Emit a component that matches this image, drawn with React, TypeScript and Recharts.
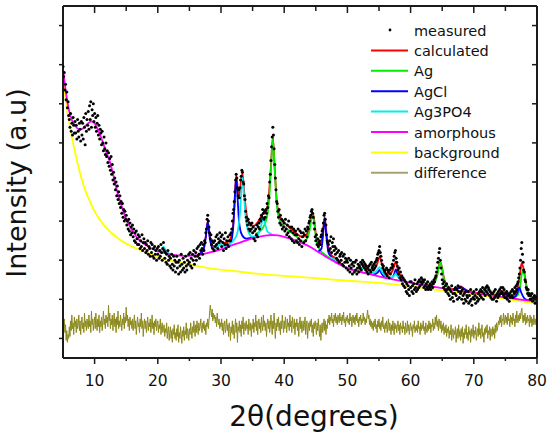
import React from 'react';
import { ComposedChart, Line, Scatter, XAxis, YAxis, Legend } from 'recharts';

// measured and difference patterns: first 2theta and step
const SCAN_START = 5;
const SCAN_STEP = 0.1;

// measured intensity, one row per degree (5.0 ... 80.0)
const measured = [
  14.9, 14.4, 14.6, 13.7, 14.0, 13.2, 13.6, 12.8, 13.1, 12.4,
  12.2, 11.8, 12.5, 11.6, 12.0, 11.4, 12.3, 11.9, 11.5, 12.1,
  11.5, 11.9, 11.2, 12.2, 11.6, 11.3, 12.0, 11.7, 11.1, 12.1,
  11.4, 12.0, 11.2, 12.3, 11.8, 10.9, 12.5, 11.6, 12.2, 11.9,
  12.6, 11.7, 12.9, 12.2, 13.1, 11.8, 12.7, 12.4, 13.0, 12.1,
  12.5, 11.8, 12.3, 11.6, 12.0, 12.4, 11.4, 11.9, 11.2, 11.7,
  11.5, 10.9, 11.6, 11.0, 10.6, 11.3, 10.7, 10.4, 11.0, 10.3,
  10.6, 10.0, 10.5, 9.8, 10.2, 9.6, 10.3, 9.4, 9.9, 9.1,
  9.5, 8.9, 9.2, 8.6, 9.0, 8.3, 8.8, 8.1, 8.5, 7.9,
  8.3, 7.7, 8.0, 7.4, 7.9, 7.2, 7.6, 7.0, 7.5, 7.1,
  7.3, 6.8, 7.0, 6.6, 7.1, 6.5, 6.9, 6.3, 6.7, 6.4,
  6.8, 6.2, 6.6, 6.0, 6.4, 5.9, 6.5, 6.1, 5.8, 6.3,
  5.8, 6.2, 5.6, 6.0, 5.7, 6.3, 5.5, 5.9, 6.1, 5.6,
  5.9, 5.4, 5.8, 5.5, 6.0, 5.3, 5.7, 5.6, 5.2, 5.9,
  5.4, 5.8, 5.2, 5.6, 5.1, 5.7, 5.3, 5.5, 5.0, 5.6,
  5.3, 5.7, 5.1, 5.5, 5.2, 5.8, 5.4, 5.0, 5.6, 5.9,
  5.5, 5.1, 5.4, 4.9, 5.3, 4.8, 5.5, 5.0, 5.2, 4.7,
  5.1, 4.6, 5.3, 4.8, 4.5, 5.2, 4.7, 5.0, 4.4, 4.9,
  5.2, 4.6, 4.9, 4.3, 5.0, 4.7, 4.4, 5.3, 4.8, 4.5,
  5.1, 4.6, 4.9, 4.4, 5.2, 4.7, 4.5, 5.0, 4.8, 5.3,
  4.9, 5.4, 4.7, 5.1, 4.6, 5.3, 5.0, 5.5, 4.8, 5.2,
  5.4, 5.0, 5.6, 5.2, 5.7, 5.3, 5.1, 5.8, 5.5, 5.9,
  5.6, 5.3, 5.8, 5.5, 6.0, 5.9, 6.4, 6.6, 7.1, 7.3,
  7.0, 6.7, 6.4, 6.1, 6.3, 5.8, 6.0, 5.6, 5.9, 5.5,
  6.0, 5.7, 6.2, 5.8, 6.3, 5.6, 6.1, 5.9, 6.4, 6.0,
  6.2, 5.7, 6.3, 5.9, 5.5, 6.1, 5.8, 6.4, 5.6, 6.0,
  5.8, 6.2, 5.7, 6.0, 6.3, 6.0, 6.4, 6.6, 7.0, 7.4,
  7.6, 8.0, 8.5, 9.1, 9.4, 9.2, 8.7, 8.3, 8.6, 8.2,
  8.7, 9.1, 9.3, 9.6, 9.5, 9.0, 8.9, 8.3, 8.1, 7.5,
  7.2, 7.0, 6.8, 7.1, 6.6, 6.9, 6.5, 6.8, 6.6, 6.9,
  6.4, 6.7, 6.1, 6.5, 6.0, 6.6, 6.3, 6.8, 6.2, 6.7,
  6.9, 6.6, 7.1, 7.0, 7.3, 7.2, 7.6, 7.4, 7.1, 7.5,
  7.2, 7.6, 7.4, 7.9, 7.7, 8.3, 8.2, 9.0, 9.4, 10.1,
  10.8, 11.3, 11.8, 11.4, 10.7, 9.9, 9.2, 8.6, 8.0, 7.9,
  7.5, 7.2, 7.6, 6.9, 7.3, 6.8, 7.1, 6.6, 7.0, 6.7,
  6.9, 6.5, 7.1, 6.6, 6.3, 6.8, 6.4, 7.0, 6.2, 6.7,
  6.5, 6.1, 6.7, 6.0, 6.4, 6.6, 5.9, 6.3, 6.5, 6.0,
  6.3, 5.9, 6.6, 6.1, 5.8, 6.5, 6.0, 6.4, 5.7, 6.2,
  6.4, 5.9, 6.3, 6.6, 6.0, 6.5, 6.2, 6.7, 6.6, 6.9,
  7.0, 7.2, 7.3, 7.5, 7.6, 7.4, 7.2, 6.9, 6.6, 6.2,
  6.0, 6.3, 5.8, 6.1, 5.7, 5.9, 6.0, 5.8, 6.2, 6.3,
  6.5, 6.6, 6.9, 7.3, 7.4, 7.1, 6.8, 6.3, 6.0, 5.9,
  5.8, 5.5, 6.0, 5.6, 6.2, 5.4, 5.9, 5.7, 6.1, 5.5,
  5.7, 5.3, 5.6, 5.1, 5.4, 5.0, 5.5, 4.9, 5.2, 5.3,
  5.0, 5.4, 4.8, 5.2, 4.7, 5.3, 4.9, 5.1, 4.6, 5.0,
  4.9, 4.5, 5.1, 4.7, 4.4, 5.0, 4.6, 4.8, 4.3, 4.9,
  4.7, 4.4, 4.9, 4.5, 5.0, 4.3, 4.6, 4.8, 4.4, 4.7,
  4.6, 4.9, 4.5, 4.8, 5.0, 4.7, 4.9, 4.6, 4.8, 4.5,
  4.7, 4.4, 4.6, 4.3, 4.7, 4.5, 4.8, 4.4, 4.9, 4.6,
  4.7, 4.5, 4.8, 4.6, 4.9, 4.7, 5.0, 5.1, 5.3, 5.4,
  5.5, 5.7, 5.4, 5.2, 5.0, 4.8, 4.6, 4.7, 4.5, 4.4,
  4.5, 4.3, 4.6, 4.2, 4.5, 4.4, 4.1, 4.5, 4.3, 4.6,
  4.6, 4.8, 4.7, 5.0, 5.2, 5.4, 5.5, 5.1, 4.9, 4.7,
  4.5, 4.3, 4.6, 4.1, 4.4, 4.0, 4.2, 3.8, 4.1, 3.7,
  4.0, 3.6, 3.9, 3.4, 3.8, 3.3, 3.7, 3.5, 3.2, 3.9,
  3.6, 3.9, 3.4, 3.7, 3.3, 3.8, 3.5, 4.0, 3.6, 3.4,
  3.8, 3.5, 3.9, 3.6, 4.0, 3.7, 3.9, 4.1, 3.8, 4.0,
  3.9, 3.6, 4.0, 3.7, 3.5, 3.8, 3.6, 3.9, 3.5, 3.7,
  3.6, 3.8, 3.5, 3.7, 3.9, 3.6, 3.8, 4.0, 3.9, 4.1,
  4.2, 4.4, 4.6, 4.9, 5.1, 5.4, 5.6, 5.0, 4.6, 4.3,
  4.0, 3.8, 3.6, 3.9, 3.5, 3.7, 3.4, 3.8, 3.5, 3.3,
  3.6, 3.2, 3.5, 3.0, 3.4, 3.7, 3.1, 3.3, 2.9, 3.5,
  3.3, 3.6, 3.2, 3.5, 3.0, 3.7, 3.4, 3.1, 3.6, 3.3,
  3.4, 3.0, 3.5, 3.2, 2.8, 3.3, 3.0, 3.4, 2.9, 3.2,
  3.1, 3.4, 2.8, 3.2, 2.9, 3.5, 3.0, 2.7, 3.3, 3.1,
  3.4, 3.0, 3.2, 2.8, 3.5, 3.1, 2.9, 3.3, 3.0, 3.4,
  3.2, 3.5, 3.1, 3.4, 3.6, 3.0, 3.3, 3.5, 3.2, 3.6,
  3.4, 3.7, 3.3, 3.6, 3.5, 3.2, 3.4, 3.1, 3.3, 3.0,
  3.3, 3.0, 3.4, 3.1, 3.5, 3.2, 2.9, 3.3, 3.1, 3.4,
  3.2, 3.5, 3.3, 3.6, 3.4, 3.3, 3.6, 3.2, 3.5, 3.1,
  3.3, 3.1, 3.4, 3.0, 3.3, 3.2, 2.9, 3.3, 3.1, 3.4,
  3.2, 3.5, 3.1, 3.4, 3.3, 3.6, 3.4, 3.7, 3.5, 3.8,
  3.9, 4.1, 4.3, 4.6, 5.0, 5.6, 5.9, 5.3, 4.9, 4.5,
  4.4, 4.0, 3.9, 3.6, 3.5, 3.3, 3.5, 3.2, 3.3, 3.0,
  3.2, 3.0, 3.3, 2.9, 3.1, 3.0, 3.2, 2.8, 3.1, 3.0,
  3.1,
];

// difference (measured - calculated), offset below the pattern
const difference = [
  2.2, 1.6, 2.0, 1.3, 1.7, 0.9, 1.4, 0.8, 1.2, 1.0,
  1.6, 1.1, 1.9, 1.4, 2.2, 1.5, 1.8, 1.2, 2.1, 1.6,
  1.9, 1.3, 2.0, 1.5, 1.7, 2.2, 1.4, 1.9, 1.2, 1.8,
  2.1, 1.5, 1.8, 1.3, 2.3, 1.6, 1.9, 1.4, 2.0, 1.7,
  1.5, 2.2, 1.6, 1.9, 1.3, 2.4, 1.7, 2.0, 1.4, 1.8,
  2.1, 1.5, 2.3, 1.7, 1.4, 2.0, 1.6, 2.2, 1.3, 1.9,
  1.6, 2.1, 1.4, 1.9, 2.4, 1.7, 2.0, 1.5, 2.2, 1.8,
  2.1, 1.6, 2.7, 1.9, 2.3, 1.5, 2.0, 1.7, 2.2, 1.4,
  1.9, 2.3, 1.6, 2.0, 1.3, 2.1, 1.7, 2.4, 1.5, 1.9,
  1.6, 2.2, 1.8, 1.4, 2.0, 1.7, 2.3, 1.5, 2.1, 1.8,
  2.6, 1.9, 2.2, 1.6, 2.0, 1.4, 2.1, 1.7, 1.9, 1.5,
  2.0, 1.4, 1.8, 2.2, 1.5, 1.9, 1.2, 1.7, 2.1, 1.6,
  1.8, 1.3, 2.0, 1.6, 2.3, 1.5, 1.9, 1.1, 1.7, 2.0,
  1.5, 1.9, 1.3, 1.7, 2.1, 1.4, 1.8, 1.6, 2.0, 1.3,
  1.7, 2.2, 1.5, 1.8, 1.2, 1.9, 1.6, 2.0, 1.4, 1.7,
  1.9, 1.3, 1.7, 1.5, 2.0, 1.2, 1.6, 1.8, 1.3, 1.5,
  1.7, 1.1, 1.5, 1.3, 1.8, 1.0, 1.4, 1.6, 0.9, 1.3,
  1.6, 1.0, 1.4, 0.8, 1.5, 1.2, 1.7, 1.0, 1.3, 0.9,
  1.5, 1.1, 1.7, 0.8, 1.3, 1.0, 1.6, 1.2, 0.75, 1.4,
  1.1, 1.6, 0.9, 1.4, 1.2, 1.8, 1.0, 1.5, 1.3, 0.9,
  1.5, 1.2, 1.8, 1.4, 1.0, 1.6, 1.3, 1.9, 1.5, 1.1,
  1.7, 1.3, 1.9, 1.5, 1.2, 1.8, 1.4, 1.6, 2.0, 1.5,
  1.3, 1.8, 1.5, 1.9, 1.4, 1.7, 1.2, 1.8, 1.6, 2.0,
  1.5, 1.9, 2.3, 2.7, 2.4, 2.1, 2.5, 1.9, 2.3, 2.0,
  2.2, 1.8, 2.1, 1.6, 2.3, 1.9, 1.7, 2.0, 1.5, 1.8,
  1.6, 2.0, 1.4, 1.8, 1.2, 1.7, 1.9, 1.3, 1.6, 2.0,
  1.4, 1.7, 1.1, 1.8, 1.5, 0.9, 1.6, 1.3, 1.9, 1.2,
  1.7, 1.0, 1.5, 2.0, 1.3, 1.8, 0.8, 1.6, 1.4, 1.9,
  1.3, 1.7, 1.1, 1.9, 1.5, 2.1, 1.2, 1.6, 1.8, 1.4,
  1.9, 1.5, 1.7, 1.2, 2.0, 1.6, 1.4, 1.8, 1.1, 1.7,
  1.5, 2.0, 1.3, 1.8, 1.6, 2.2, 1.4, 1.9, 1.2, 1.7,
  2.0, 1.5, 1.8, 1.3, 2.1, 1.7, 1.4, 2.2, 1.6, 1.9,
  1.4, 1.8, 1.1, 1.7, 2.0, 1.5, 1.9, 1.3, 1.6, 2.2,
  1.7, 1.2, 1.9, 1.5, 2.3, 1.6, 1.0, 1.8, 1.4, 2.0,
  1.6, 2.1, 1.4, 1.8, 1.2, 1.9, 1.5, 2.2, 1.7, 1.3,
  1.9, 1.5, 2.1, 1.7, 1.3, 2.0, 1.6, 1.8, 1.4, 2.2,
  1.6, 1.9, 1.3, 2.1, 1.7, 1.5, 2.0, 1.2, 1.8, 1.6,
  2.0, 1.4, 1.8, 1.1, 1.7, 2.1, 1.5, 1.9, 1.3, 1.6,
  1.9, 1.4, 1.7, 2.1, 1.2, 1.6, 1.9, 1.0, 1.5, 1.8,
  1.4, 1.9, 1.6, 2.0, 1.3, 1.7, 1.1, 1.8, 1.5, 1.9,
  1.6, 1.2, 1.8, 1.4, 2.0, 1.5, 1.1, 1.7, 0.9, 1.5,
  1.8, 1.3, 1.6, 2.0, 1.4, 1.9, 1.2, 1.7, 1.5, 2.0,
  1.8, 2.2, 1.7, 2.1, 1.9, 2.3, 1.8, 2.0, 1.6, 2.2,
  1.9, 2.3, 1.8, 2.1, 1.7, 2.2, 2.0, 1.8, 2.3, 1.9,
  2.1, 1.7, 2.2, 1.9, 2.35, 1.8, 2.0, 1.6, 2.1, 1.9,
  2.2, 1.8, 2.0, 1.7, 2.3, 1.9, 2.1, 1.6, 2.0, 2.2,
  1.8, 2.1, 1.7, 2.2, 1.9, 2.3, 1.8, 2.0, 1.6, 2.1,
  1.9, 2.2, 1.7, 2.0, 1.8, 2.3, 1.9, 2.1, 1.7, 2.0,
  1.8, 2.2, 2.45, 2.0, 2.2, 1.7, 2.0, 1.6, 1.9, 1.5,
  1.8, 1.4, 1.9, 1.6, 2.0, 1.5, 1.7, 1.3, 1.9, 1.6,
  2.0, 1.5, 1.8, 1.4, 1.9, 1.6, 2.1, 1.5, 1.7, 1.3,
  1.8, 1.5, 1.9, 1.3, 1.7, 2.0, 1.4, 1.8, 1.6, 1.2,
  1.7, 1.4, 1.9, 1.5, 1.2, 1.8, 1.5, 1.7, 1.3, 1.6,
  1.9, 1.4, 1.7, 1.2, 1.8, 1.5, 1.6, 1.3, 1.9, 1.5,
  1.6, 1.2, 1.8, 1.5, 1.3, 1.9, 1.4, 1.7, 1.2, 1.6,
  1.8, 1.4, 1.6, 1.1, 1.7, 1.5, 1.9, 1.3, 1.6, 1.4,
  1.7, 1.3, 1.9, 1.5, 1.6, 1.2, 1.8, 1.4, 1.7, 1.5,
  1.9, 1.4, 1.6, 1.2, 1.8, 1.5, 1.3, 1.7, 1.4, 1.9,
  1.5, 1.8, 1.3, 1.7, 1.6, 2.0, 1.4, 1.8, 1.5, 2.1,
  1.7, 2.2, 1.6, 1.9, 1.4, 2.0, 1.7, 1.5, 1.9, 1.3,
  1.7, 1.4, 1.8, 1.2, 1.6, 1.3, 1.7, 1.1, 1.5, 1.3,
  1.6, 1.0, 1.4, 1.2, 1.7, 0.9, 1.3, 1.5, 1.0, 1.4,
  1.2, 1.6, 0.8, 1.3, 1.5, 1.0, 1.7, 1.1, 1.4, 0.9,
  1.5, 1.1, 1.6, 0.75, 1.3, 1.0, 1.5, 1.2, 1.7, 1.0,
  1.3, 0.9, 1.6, 1.2, 1.4, 0.8, 1.5, 1.1, 1.3, 1.7,
  1.0, 1.4, 1.2, 1.6, 0.9, 1.3, 1.5, 1.1, 1.8, 1.2,
  1.5, 1.0, 1.4, 1.7, 1.1, 1.3, 0.8, 1.5, 1.2, 1.6,
  1.3, 1.7, 1.0, 1.4, 1.2, 1.6, 0.9, 1.5, 1.3, 1.1,
  1.6, 1.2, 1.5, 1.0, 1.7, 1.3, 1.8, 1.4, 1.6, 1.9,
  1.7, 2.1, 1.8, 2.2, 1.6, 2.0, 1.9, 2.3, 1.7, 2.0,
  2.2, 1.8, 2.1, 1.7, 2.3, 1.9, 2.0, 1.6, 2.2, 1.8,
  2.1, 1.7, 2.3, 1.9, 2.0, 1.6, 2.2, 1.8, 2.4, 2.0,
  1.8, 2.2, 1.9, 2.3, 2.0, 2.4, 2.55, 2.1, 1.8, 2.2,
  1.9, 2.3, 1.7, 2.1, 1.8, 2.2, 1.9, 2.0, 1.6, 2.2,
  1.8, 2.1, 1.6, 2.0, 1.7, 2.2, 1.9, 1.7, 2.0, 1.8,
  2.1,
];

// fitted curves: [2theta, intensity]; null splits a curve into pieces
type Pt = [number, number | null];

const background: Pt[] = [
  [5, 14.6], [5.25, 13.7], [5.5, 13.0], [6, 12.0], [6.5, 11.15], [7, 10.4], [7.5, 9.7],
  [8, 9.1], [8.5, 8.6], [9, 8.2], [10, 7.5], [11, 7.0], [12, 6.6], [13, 6.3], [14, 6.05],
  [15, 5.85], [17, 5.55], [19, 5.3], [21, 5.05], [24, 4.85], [28, 4.6], [32, 4.45],
  [36, 4.3], [40, 4.2], [45, 4.08], [50, 3.95], [55, 3.84], [60, 3.66], [65, 3.45],
  [70, 3.24], [75, 3.02], [80, 2.78],
];

const amorphous: Pt[] = [
  [5, 14.8], [5.25, 14.1], [5.5, 13.5], [6, 12.6], [6.5, 12.1], [7, 11.85], [7.5, 11.7],
  [8, 11.7], [8.5, 11.85], [9, 12.0], [9.5, 12.1], [10, 12.0], [10.5, 11.7], [11, 11.3],
  [11.5, 10.85], [12, 10.4], [12.5, 9.95], [13, 9.3], [13.5, 8.6], [14, 8.05], [14.5, 7.55],
  [15, 7.1], [16, 6.5], [17, 6.05], [18, 5.8], [19, 5.6], [20, 5.45], [21, 5.37], [22, 5.3],
  [23, 5.25], [24, 5.22], [25, 5.22], [26, 5.25], [27, 5.3], [28, 5.38], [29, 5.45],
  [30, 5.55], [31, 5.68], [32, 5.8], [33, 5.9], [34, 6.02], [35, 6.12], [36, 6.2],
  [37, 6.26], [38, 6.29], [39, 6.27], [40, 6.2], [41, 6.1], [42, 5.97], [43, 5.85],
  [44, 5.7], [45, 5.5], [46, 5.3], [47, 5.1], [48, 4.92], [49, 4.75], [50, 4.6], [52, 4.4],
  [54, 4.25], [56, 4.1], [58, 3.97], [60, 3.85], [62, 3.72], [64, 3.62], [66, 3.52],
  [68, 3.42], [70, 3.33], [72, 3.23], [74, 3.14], [76, 3.05], [78, 2.96], [80, 2.88],
];

const calculated: Pt[] = [
  [26.5, 5.3], [27.0, 5.42], [27.3, 5.62], [27.6, 6.25], [27.9, 7.0], [28.2, 6.25],
  [28.5, 5.8], [28.9, 5.72], [29.4, 5.85], [29.9, 6.0], [30.4, 5.88], [31.0, 5.92],
  [31.5, 6.1], [31.8, 6.45], [32.1, 7.6], [32.4, 9.35], [32.7, 8.5], [32.9, 8.3],
  [33.15, 9.0], [33.4, 9.44], [33.7, 8.4], [34.0, 7.45], [34.5, 6.9], [35.1, 6.75],
  [35.7, 6.9], [36.2, 7.15], [36.5, 7.32], [36.75, 7.39], [37.1, 7.45], [37.5, 8.1],
  [37.9, 9.8], [38.2, 11.3], [38.5, 9.7], [38.8, 8.1], [39.2, 7.35], [39.8, 7.0],
  [40.6, 6.75], [41.5, 6.5], [42.2, 6.3], [42.8, 6.2], [43.5, 6.3], [44.0, 6.7],
  [44.3, 7.25], [44.5, 7.45], [44.75, 7.05], [45.1, 6.1], [45.5, 5.8], [45.9, 5.95],
  [46.15, 6.55], [46.4, 7.2], [46.65, 6.5], [47.0, 5.6], [47.5, 5.25], [47.9, 5.15],
  [48.4, 5.0], [49.0, 4.82], [50.2, null],
  [51.5, 4.45], [52.2, 4.55], [52.6, 4.7], [53.0, 4.55], [53.5, 4.48], [54.2, 4.52],
  [54.7, 4.8], [55.1, 5.18], [55.4, 4.85], [56.0, 4.35], [56.6, 4.3], [57.2, 4.5],
  [57.65, 4.92], [58.0, 4.5], [58.6, 4.1], [59.2, 3.95], [60.1, null],
  [61.0, 3.8], [61.9, 3.9], [62.8, 3.7], [63.3, 3.75], [63.8, 3.9], [64.2, 4.25],
  [64.5, 4.75], [64.7, 4.92], [64.95, 4.65], [65.3, 4.05], [65.8, 3.7], [66.6, 3.52],
  [67.4, 3.58], [67.9, 3.66], [68.4, 3.56], [69.2, 3.42], [70.5, 3.32], [71.5, 3.35],
  [72.2, 3.5], [72.8, 3.33], [73.5, 3.22], [74.2, 3.3], [74.6, 3.4], [75.1, 3.3],
  [75.8, 3.16], [76.4, 3.22], [76.9, 3.55], [77.3, 4.3], [77.55, 4.84], [77.85, 4.6],
  [78.05, 4.28], [78.3, 3.75], [78.7, 3.25], [79.3, 3.05], [80, 2.95],
];

const agPhase: Pt[] = [
  [35.5, 6.35], [36.5, 6.6], [37.2, 7.1], [37.6, 8.0], [37.9, 9.6], [38.2, 11.2],
  [38.5, 9.6], [38.8, 8.0], [39.2, 7.1], [40, 6.75], [41, 6.45], [42, 6.2], [42.8, 5.95],
  [43.5, 6.05], [44.0, 6.5], [44.3, 7.1], [44.5, 7.31], [44.75, 6.9], [45.1, 6.0],
  [45.6, 5.55], [46.2, 5.35], [47.0, 5.15], [47.5, 5.05], [48, null],
  [63.2, 3.72], [63.8, 3.85], [64.2, 4.2], [64.5, 4.7], [64.7, 4.87], [64.95, 4.6],
  [65.3, 4.0], [65.8, 3.62], [66.5, 3.5], [67, null],
  [76.2, 3.08], [76.9, 3.2], [77.3, 3.6], [77.6, 4.3], [77.8, 4.53], [78.05, 4.2],
  [78.4, 3.5], [79, 3.1], [80, 2.92],
];

const agclPhase: Pt[] = [
  [26.6, 5.33], [27.2, 5.5], [27.6, 6.2], [27.9, 6.96], [28.2, 6.2], [28.6, 5.62],
  [29.2, 5.5], [29.6, null],
  [31.0, 5.72], [31.6, 5.95], [32.0, 7.0], [32.2, 8.3], [32.4, 9.18], [32.6, 8.3],
  [32.85, 7.0], [33.3, 6.3], [34, 6.1], [35, 6.17], [35.6, 6.22], [36, null],
  [45.4, 5.45], [45.9, 5.6], [46.15, 6.3], [46.4, 7.14], [46.65, 6.3], [47, 5.4],
  [47.5, 5.15], [48, 4.95], [48.5, null],
  [54.0, 4.27], [54.6, 4.32], [54.9, 4.42], [55.1, 4.5], [55.35, 4.35], [55.8, 4.15],
  [56.4, 4.08], [57.0, 4.1], [57.35, 4.25], [57.65, 4.53], [57.95, 4.25], [58.5, 4.0],
  [59.2, 3.92], [60, null],
  [67.0, 3.5], [67.5, 3.56], [67.9, 3.64], [68.3, 3.56], [68.9, 3.44], [69.5, null],
  [73.8, 3.18], [74.3, 3.28], [74.6, 3.33], [75.0, 3.25], [75.6, 3.1], [76.3, 3.08],
  [76.8, 3.25], [77.2, 3.61], [77.5, 3.35], [78.0, 3.05], [78.6, 2.95],
];

const ag3po4Phase: Pt[] = [
  [20.2, 5.44], [20.6, 5.55], [20.9, 5.69], [21.2, 5.52], [21.7, 5.36], [22, null],
  [28.9, 5.5], [29.4, 5.65], [29.9, 5.83], [30.4, 5.72], [31, 5.76], [31.8, 5.95],
  [32.5, 6.3], [33.0, 7.4], [33.2, 8.4], [33.4, 9.26], [33.65, 8.3], [33.9, 7.2],
  [34.4, 6.4], [35, 6.2], [35.8, 6.3], [36.3, 6.7], [36.55, 7.05], [36.75, 7.22],
  [36.95, 6.9], [37.4, 6.45], [38, 6.35], [38.5, null],
  [47.2, 5.15], [47.9, 5.05], [48.6, 4.85], [49, null],
  [51.8, 4.45], [52.3, 4.55], [52.6, 4.63], [52.9, 4.5], [53.5, 4.35], [54.2, 4.35],
  [54.7, 4.5], [55.1, 4.65], [55.4, 4.45], [56, 4.2], [56.7, 4.1], [57.3, 4.18],
  [57.65, 4.3], [58, 4.15], [58.6, 3.98], [59, null],
  [61.2, 3.78], [61.6, 3.82], [61.9, 3.87], [62.3, 3.78], [62.8, 3.68], [63, null],
  [71.4, 3.28], [71.9, 3.38], [72.2, 3.47], [72.6, 3.36], [73.2, 3.2],
];

const xTicks = [10, 15, 20, 25, 30, 35, 40, 45, 50, 55, 60, 65, 70, 75, 80];
const yTicks = [1, 2, 3, 4, 5, 6, 7, 8, 9, 10, 11, 12, 13, 14, 15, 16, 17];

const legendItems = [
  { label: 'measured', color: '#000000', dot: true },
  { label: 'calculated', color: '#ff0000' },
  { label: 'Ag', color: '#00ee00' },
  { label: 'AgCl', color: '#0000ff' },
  { label: 'Ag3PO4', color: '#00eeee' },
  { label: 'amorphous', color: '#ff00ff' },
  { label: 'background', color: '#ffff00' },
  { label: 'difference', color: '#a8a070' },
];

const AXIS = '#1a1a1a';
const FONT = '"DejaVu Sans", sans-serif';

const scan = (values: number[]) =>
  values.map((y, i) => ({ x: Math.round((SCAN_START + i * SCAN_STEP) * 10) / 10, y }));
const toPoints = (pts: Pt[]) => pts.map(([x, y]) => ({ x, y }));

const BottomTick = ({ x, y, payload }: any) => {
  const major = payload.value % 10 === 0;
  return (
    <g>
      <line x1={x} x2={x} y1={y} y2={y + (major ? 6 : 3)} stroke={AXIS} strokeWidth={1.5} />
      {major && (
        <text x={x} y={y + 27.5} textAnchor="middle" fontSize={15.5} fontFamily={FONT} fill="#111">
          {payload.value}
        </text>
      )}
    </g>
  );
};

const TopTick = ({ x, y, payload }: any) => {
  const major = payload.value % 10 === 0;
  return <line x1={x} x2={x} y1={y} y2={y + (major ? 7 : 5)} stroke={AXIS} strokeWidth={1.5} />;
};

const LeftTick = ({ x, y, payload }: any) => {
  const major = payload.value % 2 === 0;
  return <line x1={x} x2={x - (major ? 8 : 4)} y1={y} y2={y} stroke={AXIS} strokeWidth={1.5} />;
};

const RightTick = ({ x, y, payload }: any) => {
  const major = payload.value % 2 === 0;
  return <line x1={x} x2={x - (major ? 7 : 5)} y1={y} y2={y} stroke={AXIS} strokeWidth={1.5} />;
};

const LegendBox = () => (
  <svg width={175} height={170}>
    {legendItems.map((item, i) => {
      const cy = 12 + i * 20.4;
      return (
        <g key={item.label}>
          {item.dot ? (
            <circle cx={22} cy={cy} r={1.4} fill={item.color} />
          ) : (
            <line x1={3} x2={40} y1={cy} y2={cy} stroke={item.color} strokeWidth={2} />
          )}
          <text x={46} y={cy + 5.5} fontSize={14.5} fontFamily={FONT} fill="#111">
            {item.label}
          </text>
        </g>
      );
    })}
  </svg>
);

const Dot = (props: any) => <circle cx={props.cx} cy={props.cy} r={1.5} fill="#000" />;

export default function App() {
  return (
    <div style={{ width: 550, height: 438, background: '#fff' }}>
      <style>{'body{margin:0}'}</style>
      <ComposedChart width={550} height={438} margin={{ top: 5, right: 12, bottom: 0, left: 0 }}>
        <XAxis
          xAxisId="b"
          type="number"
          dataKey="x"
          domain={[5, 80]}
          ticks={xTicks}
          allowDataOverflow
          height={80}
          tickSize={0}
          tickMargin={0}
          tickLine={false}
          tick={<BottomTick />}
          axisLine={{ stroke: AXIS, strokeWidth: 2 }}
          label={{
            content: () => (
              <text x={314} y={426} textAnchor="middle" fontSize={28} fontFamily={FONT} fill="#111">
                2θ(degrees)
              </text>
            ),
          }}
        />
        <XAxis
          xAxisId="t"
          orientation="top"
          type="number"
          dataKey="x"
          domain={[5, 80]}
          ticks={xTicks}
          allowDataOverflow
          height={1}
          tickSize={0}
          tickMargin={0}
          tickLine={false}
          tick={<TopTick />}
          axisLine={{ stroke: AXIS, strokeWidth: 2 }}
        />
        <YAxis
          yAxisId="l"
          type="number"
          domain={[0, 18]}
          ticks={yTicks}
          allowDataOverflow
          width={63}
          tickSize={0}
          tickMargin={0}
          tickLine={false}
          tick={<LeftTick />}
          axisLine={{ stroke: AXIS, strokeWidth: 2 }}
          label={{
            content: () => (
              <text
                x={26}
                y={183}
                transform="rotate(-90 26 183)"
                textAnchor="middle"
                fontSize={27}
                fontFamily={FONT}
                fill="#111"
              >
                Intensity (a.u)
              </text>
            ),
          }}
        />
        <YAxis
          yAxisId="r"
          orientation="right"
          type="number"
          domain={[0, 18]}
          ticks={yTicks}
          allowDataOverflow
          width={1}
          tickSize={0}
          tickMargin={0}
          tickLine={false}
          tick={<RightTick />}
          axisLine={{ stroke: AXIS, strokeWidth: 2 }}
        />
        <Legend
          layout="horizontal"
          verticalAlign="middle"
          align="center"
          wrapperStyle={{ top: 18, left: 368, width: 175, height: 170 }}
          content={() => <LegendBox />}
        />
        <Scatter
          xAxisId="b"
          yAxisId="l"
          data={scan(measured)}
          dataKey="y"
          shape={<Dot />}
          isAnimationActive={false}
        />
        <Line
          xAxisId="b"
          yAxisId="l"
          data={scan(difference)}
          dataKey="y"
          type="linear"
          stroke="#8c8a1c"
          strokeWidth={1}
          dot={false}
          isAnimationActive={false}
        />
        <Line xAxisId="b" yAxisId="l" data={toPoints(background)} dataKey="y" type="monotone"
          stroke="#ffff00" strokeWidth={1.8} dot={false} isAnimationActive={false} />
        <Line xAxisId="b" yAxisId="l" data={toPoints(calculated)} dataKey="y" type="monotone"
          stroke="#ff0000" strokeWidth={1.8} dot={false} isAnimationActive={false} />
        <Line xAxisId="b" yAxisId="l" data={toPoints(agPhase)} dataKey="y" type="monotone"
          stroke="#00ee00" strokeWidth={1.8} dot={false} isAnimationActive={false} />
        <Line xAxisId="b" yAxisId="l" data={toPoints(agclPhase)} dataKey="y" type="monotone"
          stroke="#0000ff" strokeWidth={1.8} dot={false} isAnimationActive={false} />
        <Line xAxisId="b" yAxisId="l" data={toPoints(ag3po4Phase)} dataKey="y" type="monotone"
          stroke="#00eeee" strokeWidth={1.8} dot={false} isAnimationActive={false} />
        <Line xAxisId="b" yAxisId="l" data={toPoints(amorphous)} dataKey="y" type="monotone"
          stroke="#ff00ff" strokeWidth={1.8} dot={false} isAnimationActive={false} />
      </ComposedChart>
    </div>
  );
}
